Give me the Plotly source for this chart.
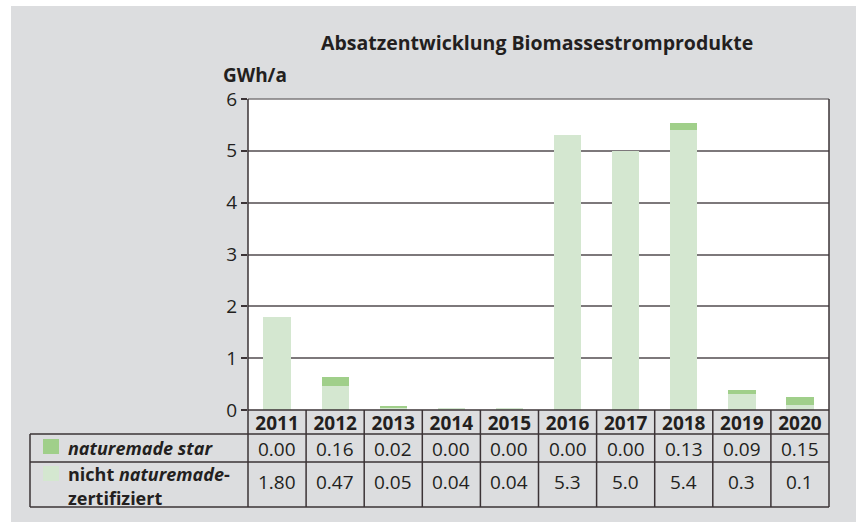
import plotly.graph_objects as go

# ---- data ----
years = ["2011", "2012", "2013", "2014", "2015", "2016", "2017", "2018", "2019", "2020"]
star = [0.00, 0.16, 0.02, 0.00, 0.00, 0.00, 0.00, 0.13, 0.09, 0.15]
nicht = [1.80, 0.47, 0.05, 0.04, 0.04, 5.3, 5.0, 5.4, 0.3, 0.1]
star_labels = ["0.00", "0.16", "0.02", "0.00", "0.00", "0.00", "0.00", "0.13", "0.09", "0.15"]
nicht_labels = ["1.80", "0.47", "0.05", "0.04", "0.04", "5.3", "5.0", "5.4", "0.3", "0.1"]
y_ticks = [0, 1, 2, 3, 4, 5, 6]

# ---- style ----
FONT = "Open Sans"
TXT = "#231f20"
LINE = "#3b3336"
GRID = "#7d787b"
BG = "#dcdddf"
DARK = "#a0cf8a"
LIGHT = "#d4e7d0"
FS = 19

W_, H_ = 856, 522
L, R, T, B = 248, 829, 99, 410


def px(p):
    return (p - L) / (R - L)


def py(p):
    return (B - p) / (B - T)


fig = go.Figure()
fig.add_trace(go.Bar(x=years, y=nicht, name="nicht naturemade-zertifiziert",
                     marker=dict(color=LIGHT, line=dict(width=0)), width=0.47))
fig.add_trace(go.Bar(x=years, y=star, name="naturemade star",
                     marker=dict(color=DARK, line=dict(width=0)), width=0.47))

shapes = []
# white page strips outside the gray panel
shapes.append(dict(type="rect", xref="paper", yref="paper", x0=px(-5), x1=px(860),
                   y0=py(6), y1=py(-5), fillcolor="white", line=dict(width=0)))
shapes.append(dict(type="rect", xref="paper", yref="paper", x0=px(-5), x1=px(11),
                   y0=py(530), y1=py(-5), fillcolor="white", line=dict(width=0)))
# top border (gray like grid)
shapes.append(dict(type="line", xref="paper", yref="paper", x0=0, x1=1, y0=1, y1=1,
                   line=dict(color=GRID, width=1.5)))
# right border
shapes.append(dict(type="line", xref="paper", yref="paper", x0=1, x1=1, y0=py(507), y1=1,
                   line=dict(color=LINE, width=1.5)))
# left border through table
shapes.append(dict(type="line", xref="paper", yref="paper", x0=0, x1=0, y0=py(507), y1=1,
                   line=dict(color=LINE, width=1.5)))
# table horizontals
for yy in [434, 462, 507]:
    shapes.append(dict(type="line", xref="paper", yref="paper", x0=px(30), x1=1,
                       y0=py(yy), y1=py(yy), line=dict(color=LINE, width=1.5)))
shapes.append(dict(type="line", xref="paper", yref="paper", x0=0, x1=1,
                   y0=0, y1=0, line=dict(color=LINE, width=1.5)))
# table left edge
shapes.append(dict(type="line", xref="paper", yref="paper", x0=px(30), x1=px(30),
                   y0=py(507), y1=py(434), line=dict(color=LINE, width=1.5)))
# column separators
for i in range(len(years) - 1):
    shapes.append(dict(type="line", xref="x", yref="paper", x0=i + 0.5, x1=i + 0.5,
                       y0=py(507), y1=0, line=dict(color=LINE, width=1.5)))
# legend swatches
shapes.append(dict(type="rect", xref="paper", yref="paper", x0=px(43), x1=px(59),
                   y0=py(454), y1=py(439), fillcolor=DARK, line=dict(width=0)))
shapes.append(dict(type="rect", xref="paper", yref="paper", x0=px(43), x1=px(59),
                   y0=py(481), y1=py(466), fillcolor=LIGHT, line=dict(width=0)))

ann = []
ann.append(dict(text="<b>Absatzentwicklung Biomassestromprodukte</b>", xref="paper", yref="paper",
                x=px(537), y=py(42), xanchor="center", yanchor="middle", showarrow=False,
                font=dict(size=19.5, color=TXT, family=FONT)))
ann.append(dict(text="<b>GWh/a</b>", xref="paper", yref="paper",
                x=px(221), y=py(75), xanchor="left", yanchor="middle", showarrow=False,
                font=dict(size=FS, color=TXT, family=FONT)))
ann.append(dict(text="<b><i>naturemade star</i></b>", xref="paper", yref="paper",
                x=px(66), y=py(448), xanchor="left", yanchor="middle", showarrow=False,
                font=dict(size=18, color=TXT, family=FONT)))
ann.append(dict(text="<b>nicht <i>naturemade</i>-</b>", xref="paper", yref="paper",
                x=px(66), y=py(474), xanchor="left", yanchor="middle", showarrow=False,
                font=dict(size=18, color=TXT, family=FONT)))
ann.append(dict(text="<b>zertifiziert</b>", xref="paper", yref="paper",
                x=px(66), y=py(497.5), xanchor="left", yanchor="middle", showarrow=False,
                font=dict(size=18, color=TXT, family=FONT)))
for i, (s, n) in enumerate(zip(star_labels, nicht_labels)):
    ann.append(dict(text=s, xref="x", yref="paper", x=i, y=py(449), xanchor="center",
                    yanchor="middle", showarrow=False, font=dict(size=FS, color=TXT, family=FONT)))
    ann.append(dict(text=n, xref="x", yref="paper", x=i, y=py(482), xanchor="center",
                    yanchor="middle", showarrow=False, font=dict(size=FS, color=TXT, family=FONT)))

fig.update_layout(
    width=W_, height=H_,
    margin=dict(l=L, r=W_ - R, t=T, b=H_ - B, pad=0),
    paper_bgcolor=BG, plot_bgcolor="white",
    barmode="stack", showlegend=False,
    font=dict(family=FONT, color=TXT, size=FS),
    shapes=shapes, annotations=ann,
    xaxis=dict(type="category", range=[-0.5, len(years) - 0.5], showgrid=False,
               showline=False, zeroline=False, ticks="",
               tickvals=years, ticktext=["<b>%s</b>" % y for y in years],
               tickfont=dict(size=FS, color=TXT, family=FONT)),
    yaxis=dict(range=[0, 6], tickvals=y_ticks, showgrid=True, gridcolor=GRID, gridwidth=1.5,
               zeroline=False, showline=False, ticks="outside", ticklen=6,
               tickcolor=LINE, tickwidth=1.5,
               tickfont=dict(size=FS, color=TXT, family=FONT)),
)

fig.write_html("out.html", config={"displayModeBar": False},
               post_script="document.body.style.margin='0';")
